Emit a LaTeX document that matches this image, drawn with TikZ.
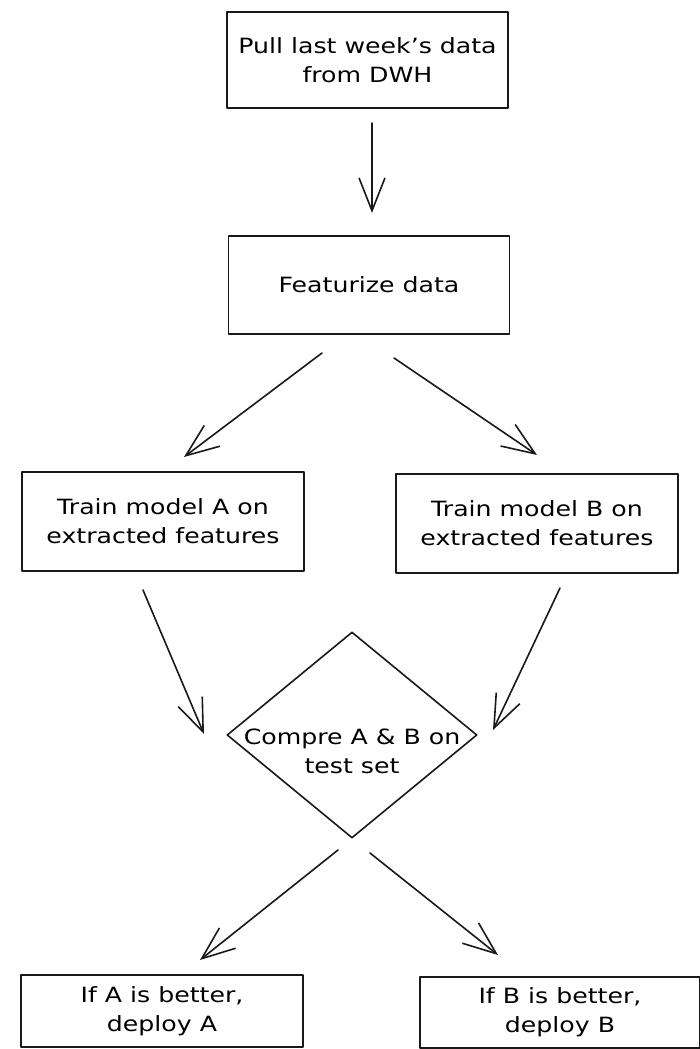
\documentclass[tikz,border=0pt]{standalone}
\usepackage{fontspec}
\setmainfont{DejaVu Sans}[FakeStretch=1.2]
\usetikzlibrary{arrows.meta,shapes.geometric}
\begin{document}
\begin{tikzpicture}[x=1pt,y=-1pt,
  ink/.style={draw=black!90, line width=1.6pt, line join=round},
  label text/.style={align=center, font=\fontsize{21}{29}\selectfont, text=black},
  stepbox/.style={ink, rectangle, inner sep=0pt, label text},
  decision/.style={ink, diamond, inner sep=0pt},
  flow/.style={draw=black!90, line width=1.6pt, line cap=round,
    -{Straight Barb[length=33pt,width=26pt,line width=1.6pt]}}
]
\useasboundingbox (0,0) rectangle (699,1049);
\fill[white] (0,0) rectangle (699,1049);

% process steps
\node[stepbox, minimum width=281pt, minimum height=96pt] (pull) at (367.5,60)
  {Pull last week's data\\from DWH};
\node[stepbox, minimum width=281pt, minimum height=98pt] (feat) at (369,285)
  {Featurize data};
\node[stepbox, minimum width=282pt, minimum height=99pt] (trainA) at (163,521.5)
  {Train model A on\\extracted features};
\node[stepbox, minimum width=282pt, minimum height=99pt] (trainB) at (537,523.5)
  {Train model B on\\extracted features};

% comparison
\node[decision, minimum width=250pt, minimum height=206pt] (cmp) at (352,735) {};
\node[label text] (cmptext) at (352,751) {Compre A \& B on\\test set};

% outcomes
\node[stepbox, minimum width=282pt, minimum height=72pt] (depA) at (162,1011)
  {If A is better,\\deploy A};
\node[stepbox, minimum width=280pt, minimum height=71pt] (depB) at (560,1012.5)
  {If B is better,\\deploy B};

% connector end points
\coordinate (p1) at (372,123);  \coordinate (q1) at (372,213);
\coordinate (p2) at (322,353);  \coordinate (q2) at (184,457);
\coordinate (p3) at (394,358);  \coordinate (q3) at (537,455);
\coordinate (p4) at (143,590);  \coordinate (q4) at (204,734);
\coordinate (p5) at (560,588);  \coordinate (q5) at (493,730);
\coordinate (p6) at (338,850);  \coordinate (q6) at (200,960);
\coordinate (p7) at (370,853);  \coordinate (q7) at (498,955);

\draw[flow] (p1) -- (q1);
\draw[flow] (p2) -- (q2);
\draw[flow] (p3) -- (q3);
\draw[flow] (p4) -- (q4);
\draw[flow] (p5) -- (q5);
\draw[flow] (p6) -- (q6);
\draw[flow] (p7) -- (q7);
\end{tikzpicture}
\end{document}
